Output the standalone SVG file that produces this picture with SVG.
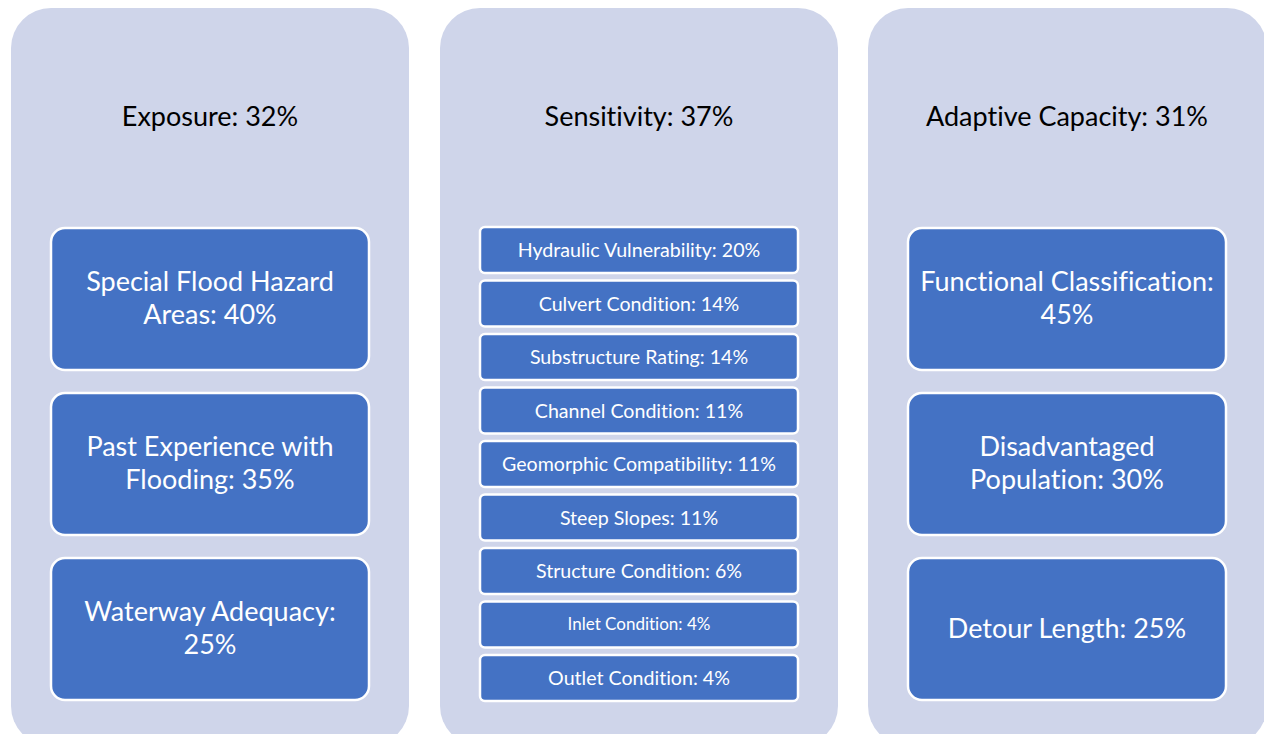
<svg xmlns="http://www.w3.org/2000/svg" width="1264" height="734" viewBox="0 0 1264 734">
  <style>
    .panel { fill: #CFD5EA; }
    .box { fill: #4472C4; stroke: #FFFFFF; stroke-width: 2.5; }
    text { font-family: Lato, "Liberation Sans", sans-serif; text-anchor: middle; font-variant-ligatures: none; font-feature-settings: "liga" 0, "clig" 0, "dlig" 0; }
    .title { font-size: 27px; fill: #000000; }
    .big { font-size: 27px; fill: #FFFFFF; }
    .small { font-size: 19.6px; fill: #FFFFFF; }
    .tiny { font-size: 17px; fill: #FFFFFF; }
  </style>
  <rect width="1264" height="734" fill="#FFFFFF"/>

  <!-- Exposure column -->
  <g id="exposure">
    <rect class="panel" x="11" y="8" width="398" height="738" rx="40" ry="40"/>
    <text class="title" x="210" y="126">Exposure: 32%</text>
  </g>
  <g id="sfha">
    <rect class="box" x="51" y="228" width="318" height="142" rx="14" ry="14"/>
    <text class="big" x="210" y="291">Special Flood Hazard</text>
    <text class="big" x="210" y="324">Areas: 40%</text>
  </g>
  <g id="past-flooding">
    <rect class="box" x="51" y="393" width="318" height="142" rx="14" ry="14"/>
    <text class="big" x="210" y="456">Past Experience with</text>
    <text class="big" x="210" y="489">Flooding: 35%</text>
  </g>
  <g id="waterway">
    <rect class="box" x="51" y="558" width="318" height="142" rx="14" ry="14"/>
    <text class="big" x="210" y="621">Waterway Adequacy:</text>
    <text class="big" x="210" y="654">25%</text>
  </g>

  <!-- Sensitivity column -->
  <g id="sensitivity">
    <rect class="panel" x="440" y="8" width="398" height="738" rx="40" ry="40"/>
    <text class="title" x="639" y="126">Sensitivity: 37%</text>
  </g>
  <g id="hydraulic">
    <rect class="box" x="480" y="227" width="318" height="46" rx="5" ry="5"/>
    <text class="small" x="639" y="257">Hydraulic Vulnerability: 20%</text>
  </g>
  <g id="culvert">
    <rect class="box" x="480" y="280.5" width="318" height="46" rx="5" ry="5"/>
    <text class="small" x="639" y="310.5">Culvert Condition: 14%</text>
  </g>
  <g id="substructure">
    <rect class="box" x="480" y="334" width="318" height="46" rx="5" ry="5"/>
    <text class="small" x="639" y="364">Substructure Rating: 14%</text>
  </g>
  <g id="channel">
    <rect class="box" x="480" y="387.5" width="318" height="46" rx="5" ry="5"/>
    <text class="small" x="639" y="417.5">Channel Condition: 11%</text>
  </g>
  <g id="geomorphic">
    <rect class="box" x="480" y="441" width="318" height="46" rx="5" ry="5"/>
    <text class="small" x="639" y="471">Geomorphic Compatibility: 11%</text>
  </g>
  <g id="slopes">
    <rect class="box" x="480" y="494.5" width="318" height="46" rx="5" ry="5"/>
    <text class="small" x="639" y="524.5">Steep Slopes: 11%</text>
  </g>
  <g id="structure">
    <rect class="box" x="480" y="548" width="318" height="46" rx="5" ry="5"/>
    <text class="small" x="639" y="578">Structure Condition: 6%</text>
  </g>
  <g id="inlet">
    <rect class="box" x="480" y="601.5" width="318" height="46" rx="5" ry="5"/>
    <text class="tiny" x="639" y="630">Inlet Condition: 4%</text>
  </g>
  <g id="outlet">
    <rect class="box" x="480" y="655" width="318" height="46" rx="5" ry="5"/>
    <text class="small" x="639" y="685">Outlet Condition: 4%</text>
  </g>

  <!-- Adaptive capacity column -->
  <g id="adaptive">
    <rect class="panel" x="868" y="8" width="399" height="738" rx="40" ry="40"/>
    <text class="title" x="1067" y="126">Adaptive Capacity: 31%</text>
  </g>
  <g id="functional">
    <rect class="box" x="908" y="228" width="318" height="142" rx="14" ry="14"/>
    <text class="big" x="1067" y="291">Functional Classification:</text>
    <text class="big" x="1067" y="324">45%</text>
  </g>
  <g id="disadvantaged">
    <rect class="box" x="908" y="393" width="318" height="142" rx="14" ry="14"/>
    <text class="big" x="1067" y="456">Disadvantaged</text>
    <text class="big" x="1067" y="489">Population: 30%</text>
  </g>
  <g id="detour">
    <rect class="box" x="908" y="558" width="318" height="142" rx="14" ry="14"/>
    <text class="big" x="1067" y="638">Detour Length: 25%</text>
  </g>

  <!-- no connectors in this layout -->
  <g id="connectors"/>
</svg>
